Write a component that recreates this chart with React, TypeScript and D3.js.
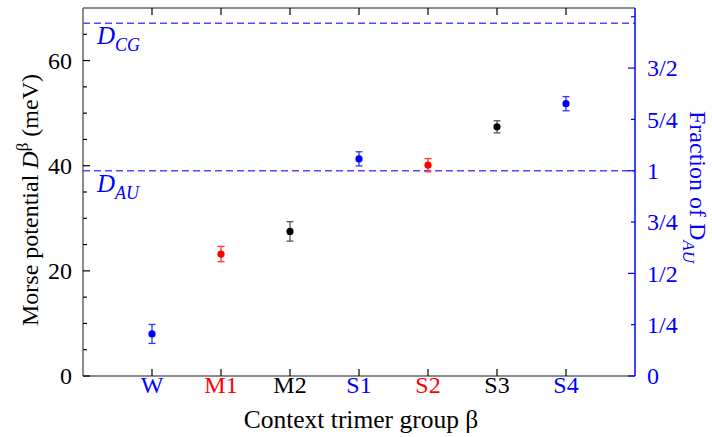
import React from 'react';
import * as d3 from 'd3';

const groups = ['W', 'M1', 'M2', 'S1', 'S2', 'S3', 'S4'];
const groupColors = ['#0000ff', '#ff0000', '#000000', '#0000ff', '#ff0000', '#000000', '#0000ff'];
const errColors = ['#3333ff', '#ff3333', '#555555', '#3333ff', '#ff3333', '#555555', '#3333ff'];
const values = [8.0, 23.2, 27.5, 41.3, 40.1, 47.4, 51.8];
const errors = [1.8, 1.45, 1.85, 1.35, 1.25, 1.15, 1.35];
const yMajorTicks = [0, 20, 40, 60];
const yMinorTicks = [5, 10, 15, 25, 30, 35, 45, 50, 55, 65];
const D_AU = 39.05;
const D_CG = 67.1;
const fracTicks = [0, 0.25, 0.5, 0.75, 1, 1.25, 1.5, 1.75];
const fracLabels = ['0', '1/4', '1/2', '3/4', '1', '5/4', '3/2', ''];

const FONT = "'Liberation Serif', 'Times New Roman', 'DejaVu Serif', serif";

export default function App() {
  const W = 712, H = 437;
  const left = 83, right = 635, top = 8, bottom = 376;
  const x = d3.scaleLinear().domain([0, groups.length + 1]).range([left, right]);
  const y = d3.scaleLinear().domain([0, 70]).range([bottom, top]);
  const yF = d3.scaleLinear().domain([0, 1]).range([y(0), y(D_AU)]);
  const axisGray = '#666666';
  const blue = '#0000ff';
  const dashBlue = '#4a4aff';
  const ts = { fontFamily: FONT } as React.CSSProperties;

  return (
    <svg width={W} height={H} style={{ position: 'absolute', left: 0, top: 0, background: '#fff', fontFamily: FONT }}>
      <rect x={0} y={0} width={W} height={H} fill="#fff" />
      {/* dashed reference lines */}
      <line x1={left} x2={right} y1={y(D_CG)} y2={y(D_CG)} stroke={dashBlue} strokeWidth={1.6} strokeDasharray="7,4" />
      <line x1={left} x2={right} y1={y(D_AU)} y2={y(D_AU)} stroke={dashBlue} strokeWidth={1.6} strokeDasharray="7,4" />
      <text style={ts} x={97} y={y(D_CG) + 21} fill={blue} fontSize={25} fontStyle="italic">
        D<tspan fontSize={18} dy={7}>CG</tspan>
      </text>
      <text style={ts} x={97} y={y(D_AU) + 21} fill={blue} fontSize={25} fontStyle="italic">
        D<tspan fontSize={18} dy={7}>AU</tspan>
      </text>

      {/* axes frame */}
      <line x1={left} x2={right} y1={top} y2={top} stroke={axisGray} strokeWidth={1.5} />
      <line x1={left} x2={right} y1={bottom} y2={bottom} stroke={axisGray} strokeWidth={1.5} />
      <line x1={left} x2={left} y1={top} y2={bottom} stroke={axisGray} strokeWidth={1.5} />
      <line x1={right} x2={right} y1={top} y2={bottom} stroke={blue} strokeWidth={1.5} />

      {/* left y ticks */}
      {yMajorTicks.map((t) => (
        <g key={'ym' + t}>
          <line x1={left} x2={left + 7} y1={y(t)} y2={y(t)} stroke="#000" strokeWidth={1.2} />
          <text style={ts} x={72} y={y(t)} dy="0.35em" textAnchor="end" fontSize={24} fill="#000">{t}</text>
        </g>
      ))}
      {yMinorTicks.map((t) => (
        <line key={'yn' + t} x1={left} x2={left + 4} y1={y(t)} y2={y(t)} stroke="#000" strokeWidth={1.2} />
      ))}

      {/* right fraction ticks */}
      {fracTicks.map((f, i) => {
        const major = Math.abs(f * 2 - Math.round(f * 2)) < 1e-9;
        return (
          <g key={'rf' + i}>
            <line x1={right} x2={right - (major ? 7 : 4)} y1={yF(f)} y2={yF(f)} stroke={blue} strokeWidth={1.2} />
            {fracLabels[i] && (
              <text style={ts} x={647} y={yF(f)} dy="0.35em" fontSize={24} fill={blue}>{fracLabels[i]}</text>
            )}
          </g>
        );
      })}

      {/* x ticks */}
      {groups.map((g, i) => (
        <g key={'xt' + g}>
          <line x1={x(i + 1)} x2={x(i + 1)} y1={bottom} y2={bottom - 7} stroke="#000" strokeWidth={1.2} />
          <line x1={x(i + 1)} x2={x(i + 1)} y1={top} y2={top + 7} stroke="#000" strokeWidth={1.2} />
          <text style={ts} x={x(i + 1)} y={393} textAnchor="middle" fontSize={24} fill={groupColors[i]}>{g}</text>
        </g>
      ))}

      {/* data points */}
      {groups.map((g, i) => {
        const cx = x(i + 1);
        const cy = y(values[i]);
        const y1 = y(values[i] + errors[i]);
        const y2 = y(values[i] - errors[i]);
        return (
          <g key={'pt' + g}>
            <line x1={cx} x2={cx} y1={y1} y2={y2} stroke={errColors[i]} strokeWidth={1.3} />
            <line x1={cx - 3.5} x2={cx + 3.5} y1={y1} y2={y1} stroke={errColors[i]} strokeWidth={1.3} />
            <line x1={cx - 3.5} x2={cx + 3.5} y1={y2} y2={y2} stroke={errColors[i]} strokeWidth={1.3} />
            <circle cx={cx} cy={cy} r={3.6} fill={groupColors[i]} />
          </g>
        );
      })}

      {/* axis titles */}
      <text style={ts} x={361} y={428} textAnchor="middle" fontSize={25.5} fill="#000">Context trimer group β</text>
      <text style={ts} transform="translate(38,200) rotate(-90)" textAnchor="middle" fontSize={24} fill="#000">
        Morse potential <tspan fontStyle="italic">D</tspan><tspan fontSize={17} dy={-10}>β</tspan><tspan dy={10}> (meV)</tspan>
      </text>
      <text style={ts} transform="translate(690,187) rotate(90)" textAnchor="middle" fontSize={24} fill={blue}>
        Fraction of D<tspan fontSize={17} dy={7} fontStyle="italic">AU</tspan>
      </text>
    </svg>
  );
}
